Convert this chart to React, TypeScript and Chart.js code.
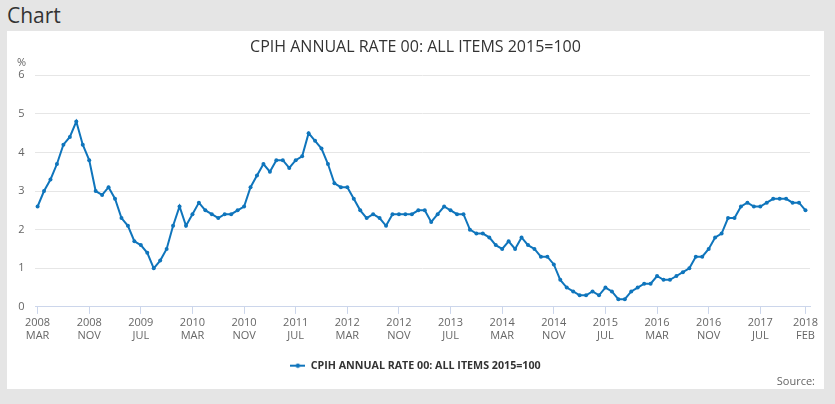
import React, { useRef, useEffect } from "react";
import { Chart, registerables } from "chart.js";

Chart.register(...registerables);

const seriesLabel = "CPIH ANNUAL RATE 00: ALL ITEMS 2015=100";

// monthly values, 2008 MAR .. 2018 FEB
const cpihValues = [
  2.6, 3.0, 3.3, 3.7, 4.2, 4.4, 4.8, 4.2, 3.8, 3.0,
  2.9, 3.1, 2.8, 2.3, 2.1, 1.7, 1.6, 1.4, 1.0, 1.2, 1.5, 2.1,
  2.6, 2.1, 2.4, 2.7, 2.5, 2.4, 2.3, 2.4, 2.4, 2.5, 2.6, 3.1,
  3.4, 3.7, 3.5, 3.8, 3.8, 3.6, 3.8, 3.9, 4.5, 4.3, 4.1, 3.7,
  3.2, 3.1, 3.1, 2.8, 2.5, 2.3, 2.4, 2.3, 2.1, 2.4, 2.4, 2.4,
  2.4, 2.5, 2.5, 2.2, 2.4, 2.6, 2.5, 2.4, 2.4, 2.0, 1.9, 1.9,
  1.8, 1.6, 1.5, 1.7, 1.5, 1.8, 1.6, 1.5, 1.3, 1.3, 1.1, 0.7,
  0.5, 0.4, 0.3, 0.3, 0.4, 0.3, 0.5, 0.4, 0.2, 0.2, 0.4, 0.5,
  0.6, 0.6, 0.8, 0.7, 0.7, 0.8, 0.9, 1.0, 1.3, 1.3, 1.5, 1.8,
  1.9, 2.3, 2.3, 2.6, 2.7, 2.6, 2.6, 2.7, 2.8, 2.8, 2.8, 2.7,
  2.7, 2.5,
];

const tickIndex = [0, 8, 16, 24, 32, 40, 48, 56, 64, 72, 80, 88, 96, 104, 112, 119];
const tickYears = ["2008", "2008", "2009", "2010", "2010", "2011", "2012", "2012", "2013", "2014", "2014", "2015", "2016", "2016", "2017", "2018"];
const tickMonths = ["MAR", "NOV", "JUL", "MAR", "NOV", "JUL", "MAR", "NOV", "JUL", "MAR", "NOV", "JUL", "MAR", "NOV", "JUL", "FEB"];
const yTicks = [0, 1, 2, 3, 4, 5, 6];

const LINE = "#0f75bc";

const makeMarker = () => {
  const c = document.createElement("canvas");
  c.width = 15;
  c.height = 6;
  const g = c.getContext("2d");
  if (g) {
    g.strokeStyle = LINE;
    g.lineWidth = 2;
    g.beginPath();
    g.moveTo(0, 3);
    g.lineTo(15, 3);
    g.stroke();
    g.fillStyle = LINE;
    g.beginPath();
    g.arc(7.5, 3, 2.2, 0, Math.PI * 2);
    g.fill();
  }
  return c;
};

const percentLabel = {
  id: "percentLabel",
  afterDraw(chart: any) {
    const y = chart.scales.y;
    const ctx = chart.ctx;
    ctx.save();
    ctx.font = "11px 'Open Sans', sans-serif";
    ctx.fillStyle = "#666";
    ctx.textAlign = "left";
    ctx.textBaseline = "middle";
    ctx.fillText("%", 10, y.getPixelForValue(6) - 12);
    ctx.restore();
  },
};

const CpihChart = () => {
  const chartRef = useRef<HTMLCanvasElement>(null);
  const chartInstanceRef = useRef<Chart | null>(null);

  useEffect(() => {
    if (!chartRef.current) return;
    const context = chartRef.current.getContext("2d");
    if (!context) return;
    if (chartInstanceRef.current) chartInstanceRef.current.destroy();

    Chart.defaults.font.family = "'Open Sans', sans-serif";

    chartInstanceRef.current = new Chart(context, {
      type: "line",
      data: {
        datasets: [
          {
            label: seriesLabel,
            data: cpihValues.map((v, i) => ({ x: i, y: v })),
            borderColor: LINE,
            backgroundColor: LINE,
            borderWidth: 2,
            pointRadius: 2,
            pointBorderWidth: 0,
            pointBackgroundColor: LINE,
            tension: 0,
          },
        ],
      },
      options: {
        animation: false,
        responsive: true,
        maintainAspectRatio: false,
        layout: { padding: { left: 0, right: 0, top: 0, bottom: 8 } },
        plugins: {
          title: {
            display: true,
            text: seriesLabel,
            color: "#333",
            font: { size: 16, weight: "normal" },
            padding: { top: 7, bottom: 18 },
          },
          legend: {
            position: "bottom",
            labels: {
              usePointStyle: true,
              pointStyle: makeMarker(),
              pointStyleWidth: 15,
              color: "#333",
              font: { size: 10.7, weight: "bold" },
              padding: 12,
            },
          },
          tooltip: { enabled: false },
        },
        scales: {
          x: {
            type: "linear",
            min: -0.4,
            max: 119.7,
            afterBuildTicks: (scale: any) => {
              scale.ticks = tickIndex.map((v) => ({ value: v }));
            },
            afterFit: (scale: any) => {
              scale.height += 4;
            },
            ticks: {
              autoSkip: false,
              maxRotation: 0,
              padding: 2,
              color: "#666",
              font: { size: 11, lineHeight: 1.2 },
              callback: (value: any) => {
                const k = tickIndex.indexOf(Number(value));
                return k >= 0 ? [tickYears[k], tickMonths[k]] : "";
              },
            },
            grid: {
              drawOnChartArea: false,
              drawTicks: true,
              tickLength: 7,
              color: "#ccd6eb",
            },
            border: { display: true, color: "#ccd6eb" },
          },
          y: {
            min: 0,
            max: 6,
            afterBuildTicks: (scale: any) => {
              scale.ticks = yTicks.map((v) => ({ value: v }));
            },
            afterFit: (scale: any) => {
              scale.width = 28;
            },
            ticks: {
              padding: 10.5,
              color: "#666",
              font: { size: 11 },
            },
            grid: { color: "#e6e6e6", drawTicks: false },
            border: { display: false },
          },
          // empty right-hand gutter so the legend stays centred in the panel
          gutter: {
            type: "linear",
            position: "right",
            display: true,
            afterFit: (scale: any) => {
              scale.width = 14;
            },
            ticks: { display: false },
            grid: { display: false },
            border: { display: false },
          },
        },
      },
      plugins: [percentLabel],
    });

    return () => {
      if (chartInstanceRef.current) {
        chartInstanceRef.current.destroy();
        chartInstanceRef.current = null;
      }
    };
  }, []);

  return <canvas ref={chartRef}></canvas>;
};

export default function App() {
  return (
    <div
      style={{
        position: "absolute",
        left: 0,
        top: 0,
        width: 835,
        height: 404,
        background: "#e5e5e5",
        fontFamily: "'Open Sans', sans-serif",
        overflow: "hidden",
      }}
    >
      <div
        style={{
          position: "absolute",
          left: 7,
          top: 1,
          fontSize: 21,
          color: "#333",
          lineHeight: "28px",
        }}
      >
        Chart
      </div>
      <div
        style={{
          position: "absolute",
          left: 7,
          top: 31,
          width: 817,
          height: 358,
          background: "#fff",
        }}
      >
        <CpihChart />
        <div
          style={{
            position: "absolute",
            right: 9,
            top: 342,
            fontSize: 11,
            color: "#666",
            lineHeight: "16px",
          }}
        >
          Source:
        </div>
      </div>
    </div>
  );
}
